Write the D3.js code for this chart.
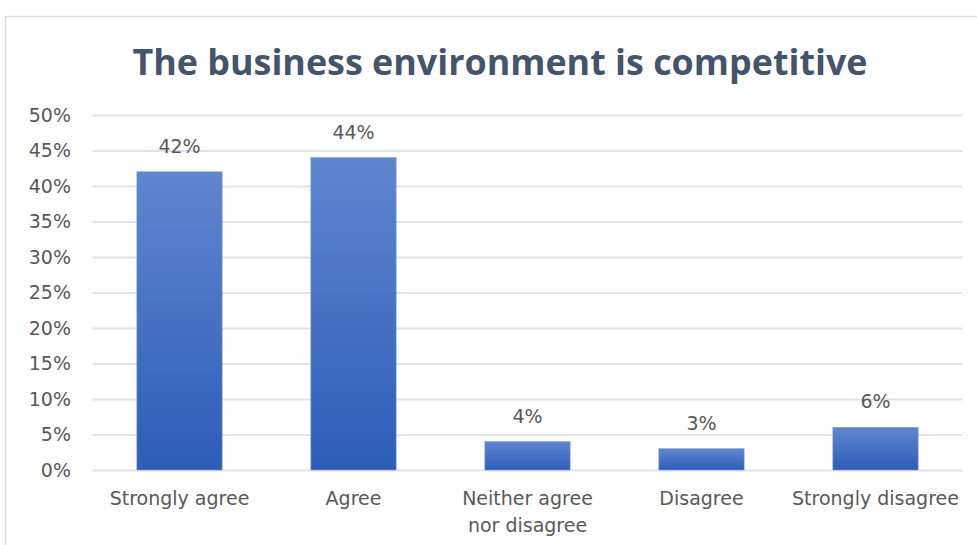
<!DOCTYPE html>
<html>
<head>
<meta charset="utf-8">
<script src="https://cdn.jsdelivr.net/npm/d3@7"></script>
<style>
  html, body { margin: 0; padding: 0; background: #fff; }
  svg { display: block; }
</style>
</head>
<body>
<svg id="chart" width="977" height="545"></svg>
<script>
// Survey responses: "The business environment is competitive"
const categories = ["Strongly agree", "Agree", "Neither agree\nnor disagree", "Disagree", "Strongly disagree"];
const shares = [0.42, 0.44, 0.04, 0.03, 0.06];
const yTicks = [0, 0.05, 0.10, 0.15, 0.20, 0.25, 0.30, 0.35, 0.40, 0.45, 0.50];
const titleText = "The business environment is competitive";

const svg = d3.select("#chart");
const titleFont = "'Open Sans', 'Noto Sans', sans-serif";
const labelFont = "'DejaVu Sans', 'Noto Sans', sans-serif";
const textGray = "#595959";
const labelSize = 19;

// chart frame
svg.append("rect")
  .attr("x", 5.5).attr("y", 16.5)
  .attr("width", 990).attr("height", 560)
  .attr("fill", "#fff")
  .attr("stroke", "#d9dde4").attr("stroke-width", 1.5);

// bar gradient, lighter at the top
const defs = svg.append("defs");
const grad = defs.append("linearGradient")
  .attr("id", "barFill")
  .attr("x1", 0).attr("y1", 0).attr("x2", 0).attr("y2", 1);
grad.append("stop").attr("offset", "0%").attr("stop-color", "#5f86cf");
grad.append("stop").attr("offset", "100%").attr("stop-color", "#2e5db8");

const plot = { left: 92.5, right: 962.5, top: 115, bottom: 470 };

const x = d3.scaleBand()
  .domain(categories)
  .range([plot.left, plot.right])
  .paddingInner(0.51)
  .paddingOuter(0.255);

const y = d3.scaleLinear()
  .domain([0, 0.5])
  .range([plot.bottom, plot.top]);

// title
svg.append("text")
  .attr("x", 500).attr("y", 75)
  .attr("text-anchor", "middle")
  .attr("font-family", titleFont)
  .attr("font-weight", 700)
  .attr("font-size", 36)
  .attr("fill", "#44546a")
  .attr("textLength", 735)
  .attr("lengthAdjust", "spacingAndGlyphs")
  .text(titleText);

// gridlines
svg.append("g")
  .attr("transform", `translate(${plot.left},0)`)
  .call(d3.axisLeft(y).tickValues(yTicks).tickSize(-(plot.right - plot.left)).tickFormat(""))
  .call(g => g.select(".domain").remove())
  .call(g => g.selectAll(".tick line").attr("stroke", "#dfe3ea").attr("stroke-width", 2));

// y axis labels
svg.append("g")
  .attr("transform", "translate(71,0)")
  .call(d3.axisLeft(y).tickValues(yTicks).tickSize(0).tickPadding(0).tickFormat(d3.format(".0%")))
  .call(g => g.select(".domain").remove())
  .call(g => g.selectAll(".tick text")
    .attr("font-family", labelFont).attr("font-size", labelSize).attr("fill", textGray));

// bars
svg.append("g").selectAll("rect")
  .data(shares)
  .join("rect")
  .attr("x", (d, i) => x(categories[i]))
  .attr("y", d => y(d))
  .attr("width", x.bandwidth())
  .attr("height", d => y(0) - y(d))
  .attr("fill", "url(#barFill)")
  .attr("stroke", "#7c9ad6").attr("stroke-width", 0.6);

// value labels
svg.append("g").selectAll("text")
  .data(shares)
  .join("text")
  .attr("x", (d, i) => x(categories[i]) + x.bandwidth() / 2)
  .attr("y", d => y(d) - 19)
  .attr("text-anchor", "middle")
  .attr("font-family", labelFont).attr("font-size", labelSize).attr("fill", textGray)
  .text(d => d3.format(".0%")(d));

// category labels
const xAxis = svg.append("g")
  .attr("transform", `translate(0,${plot.bottom})`)
  .call(d3.axisBottom(x).tickSize(0).tickPadding(0).tickFormat(""))
  .call(g => g.select(".domain").remove());

xAxis.selectAll(".tick").each(function(d) {
  const t = d3.select(this).append("text")
    .attr("text-anchor", "middle")
    .attr("font-family", labelFont).attr("font-size", labelSize).attr("fill", textGray);
  d.split("\n").forEach((line, k) => {
    t.append("tspan").attr("x", 0).attr("y", 35 + k * 27).text(line);
  });
});
</script>
</body>
</html>
